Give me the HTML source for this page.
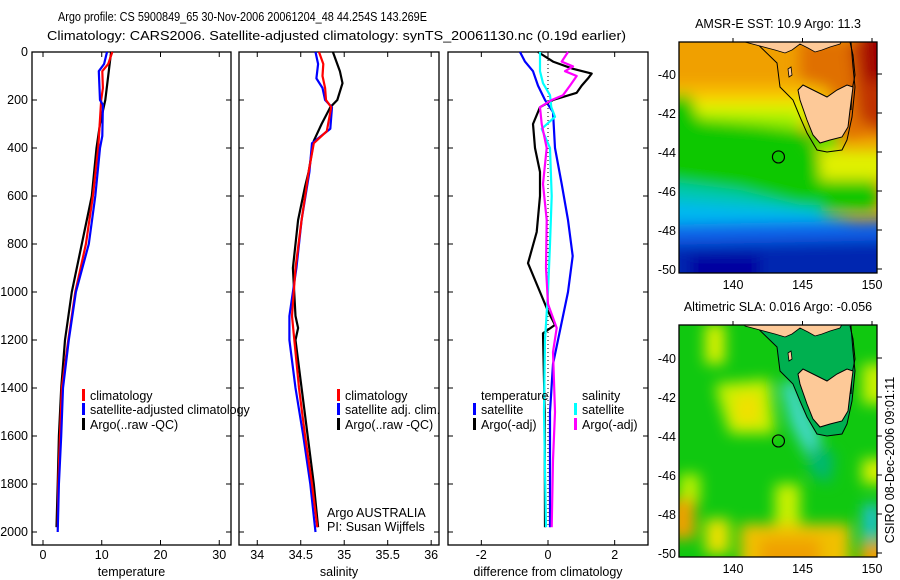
<!DOCTYPE html>
<html><head><meta charset="utf-8">
<style>
html,body{margin:0;padding:0;background:#fff;}
svg{display:block;font-family:"Liberation Sans",sans-serif;}
text{font-size:12.5px;fill:#000;}
</style></head>
<body>
<svg id="fig" width="900" height="580" viewBox="0 0 900 580" xmlns="http://www.w3.org/2000/svg">
<defs>
  <filter id="blur" x="-20%" y="-20%" width="140%" height="140%"><feGaussianBlur stdDeviation="7"/></filter>
  <clipPath id="clipTop"><rect x="679" y="42" width="198" height="231"/></clipPath>
  <clipPath id="clipBot"><rect x="679" y="325" width="198" height="232"/></clipPath>
</defs>
<text x="58" y="21" font-size="13.5" textLength="369" lengthAdjust="spacingAndGlyphs">Argo profile: CS 5900849_65 30-Nov-2006 20061204_48 44.254S 143.269E</text>
<text x="47" y="40" font-size="13.5" textLength="579" lengthAdjust="spacingAndGlyphs">Climatology: CARS2006. Satellite-adjusted climatology: synTS_20061130.nc (0.19d earlier)</text>
<g id="panels"></g>
<g id="maps"></g>
</svg>
<script>
// ---------- DATA ----------
const depthTicks = [0,200,400,600,800,1000,1200,1400,1600,1800,2000];
const tempTicks = [0,10,20,30];
const salTicks = [34,34.5,35,35.5,36];
const salTickLabels = ["34","34.5","35","35.5","36"];
const diffTicks = [-2,0,2];
const diffTickLabels = ["-2","0","2"];

const argoTDepth = [0,100,200,300,400,600,800,1000,1200,1400,1600,1800,1980];
const argoTemp   = [11.6,11.1,10.6,9.7,9.1,8.3,6.6,4.9,3.75,3.1,2.7,2.5,2.3];
const climTDepth = [0,50,80,150,200,400,600,800,1000,1200,1400,1600,1800,1980];
const climTemp   = [11.8,11.1,10.1,10.2,9.9,9.4,8.5,7.3,5.5,4.3,3.2,2.9,2.6,2.5];
const satTDepth  = [0,50,80,200,220,350,400,600,800,1000,1200,1400,1600,1800,2000];
const satTemp    = [10.9,10.4,9.5,9.7,10.2,10.1,9.7,8.9,7.8,5.6,4.4,3.4,3.1,2.7,2.5];

const argoSDepth = [0,80,130,200,230,300,370,500,560,700,900,1100,1150,1200,1400,1600,1800,1980];
const argoSal    = [34.87,34.95,34.98,34.92,34.84,34.74,34.65,34.59,34.55,34.47,34.41,34.44,34.47,34.44,34.51,34.58,34.65,34.70];
const climSDepth = [0,50,100,150,200,230,330,380,500,700,900,1100,1400,1600,1800,1980];
const climSal    = [34.71,34.76,34.75,34.78,34.79,34.85,34.80,34.65,34.59,34.51,34.44,34.40,34.48,34.55,34.63,34.69];
const satSDepth  = [0,50,110,150,200,230,320,380,500,700,900,1100,1200,1400,1600,1800,2000];
const satSal     = [34.67,34.70,34.68,34.75,34.78,34.86,34.84,34.63,34.60,34.51,34.45,34.37,34.37,34.44,34.53,34.61,34.67];

const dTsatDepth = [0,40,80,140,200,250,400,550,700,850,1000,1100,1300,1500,1980];
const dTsat      = [-0.84,-0.69,-0.45,-0.30,-0.09,0.15,0.21,0.41,0.60,0.74,0.60,0.45,0.15,0.06,0.06];
const dTargoDepth= [0,40,70,90,110,140,170,200,230,300,400,500,600,750,880,1000,1080,1137,1172,1500,1980];
const dTargo     = [-0.30,0.15,0.75,1.31,1.20,1.01,0.86,0.15,-0.24,-0.45,-0.39,-0.24,-0.24,-0.34,-0.60,-0.24,0,0.21,-0.15,-0.10,-0.09];
const dSsatDepth = [0,80,130,180,230,270,320,400,600,800,1000,1200,1500,1980];
const dSsat      = [-0.24,-0.24,-0.15,0.06,0.10,0.21,-0.19,0.06,0.11,0.06,0,-0.09,-0.12,-0.06];
const dSargoDepth= [0,40,60,80,100,140,180,200,230,300,400,550,700,900,1050,1150,1250,1500,1700,1980];
const dSargo     = [0.60,0.41,0.75,0.51,0.86,0.66,0.45,0.11,-0.24,-0.19,-0.04,-0.15,-0.04,-0.06,0,0.26,0.15,0.21,0.15,0.11];

const mapLonTicks = [140,145,150];
const mapLatTicks = [-40,-42,-44,-46,-48,-50];
const floatLon = 143.269, floatLat = -44.254;

// ---------- HELPERS ----------
const NS="http://www.w3.org/2000/svg";
function mk(tag, attrs, parent){const e=document.createElementNS(NS,tag);for(const k in attrs)e.setAttribute(k,attrs[k]);parent.appendChild(e);return e;}
const Y0=52, YS=0.24, PT=52, PB=545;
const yD = d => Y0 + d*YS;

const panelsG=document.getElementById('panels');
function makePanel(name,x0,x1,vmin,vmax,ticks,labels,xlabel,showY){
  const g=mk('g',{},panelsG);
  
  
  const sx=v=>x0+(v-vmin)/(vmax-vmin)*(x1-x0);
  const fr=mk('rect',{x:x0,y:PT,width:x1-x0,height:PB-PT,fill:'none',stroke:'#000','stroke-width':1.3},g);
  
  
  ticks.forEach((t,i)=>{
    const x=sx(t);
    mk('line',{x1:x,x2:x,y1:PT,y2:PT+5,stroke:'#000'},g);
    mk('line',{x1:x,x2:x,y1:PB,y2:PB-5,stroke:'#000'},g);
    const tx=mk('text',{x:x,y:PB+14,'text-anchor':'middle'},g);
    tx.textContent=labels[i];
    
    
  });
  depthTicks.forEach(d=>{
    const y=yD(d);
    mk('line',{x1:x0,x2:x0+5,y1:y,y2:y,stroke:'#000'},g);
    mk('line',{x1:x1,x2:x1-5,y1:y,y2:y,stroke:'#000'},g);
    if(showY){const t=mk('text',{x:x0-4,y:y+4,'text-anchor':'end'},g);t.textContent=String(d);
      
      }
  });
  const xl=mk('text',{x:(x0+x1)/2,y:PB+31,'text-anchor':'middle'},g);xl.textContent=xlabel;
  
  
  return {g,sx};
}
function drawLine(p,vals,deps,color,name){
  const pts=vals.map((v,i)=>p.sx(v).toFixed(1)+','+yD(deps[i]).toFixed(1)).join(' ');
  const l=mk('polyline',{points:pts,fill:'none',stroke:color,'stroke-width':2.2,'stroke-linejoin':'round'},p.g);
  
  
}
function legendEntry(g,x,y,color,label,name){
  if(color){mk('rect',{x:x,y:y-9,width:3,height:12,fill:color},g);}
  const t=mk('text',{x:x+8,y:y+2},g);t.textContent=label;
  
  
}

// Panel 1 temperature
const p1=makePanel('temperature-panel',32,231,-1.87,32.0,tempTicks,tempTicks.map(String),'temperature',true);
drawLine(p1,argoTemp,argoTDepth,'#000','argo-temperature-line');
drawLine(p1,climTemp,climTDepth,'#f00','climatology-temperature-line');
drawLine(p1,satTemp,satTDepth,'#00f','satellite-temperature-line');
legendEntry(p1.g,82,398,'#f00','climatology','legend-climatology');
legendEntry(p1.g,82,412,'#00f','satellite-adjusted climatology','legend-satellite');
legendEntry(p1.g,82,427,'#000','Argo(..raw -QC)','legend-argo');

// Panel 2 salinity
const p2=makePanel('salinity-panel',239,439,33.79,36.09,salTicks,salTickLabels,'salinity',false);
drawLine(p2,argoSal,argoSDepth,'#000','argo-salinity-line');
drawLine(p2,satSal,satSDepth,'#00f','satellite-salinity-line');
drawLine(p2,climSal,climSDepth,'#f00','climatology-salinity-line');
legendEntry(p2.g,337,398,'#f00','climatology','legend-climatology');
legendEntry(p2.g,337,412,'#00f','satellite adj. clim.','legend-satellite');
legendEntry(p2.g,337,427,'#000','Argo(..raw -QC)','legend-argo');
{const t=mk('text',{x:327,y:517},p2.g);t.textContent='Argo AUSTRALIA';


const t2=mk('text',{x:327,y:531},p2.g);t2.textContent='PI: Susan Wijffels';

}

// Panel 3 differences
const p3=makePanel('difference-panel',448,648,-3.0,3.0,diffTicks,diffTickLabels,'difference from climatology',false);
{const z=p3.sx(0);const dl=mk('line',{x1:z,x2:z,y1:yD(0),y2:yD(1980),stroke:'#000','stroke-dasharray':'1,3'},p3.g);

}
drawLine(p3,dTsat,dTsatDepth,'#00f','temperature-satellite-diff-line');
drawLine(p3,dTargo,dTargoDepth,'#000','temperature-argo-diff-line');
drawLine(p3,dSsat,dSsatDepth,'#0ff','salinity-satellite-diff-line');
drawLine(p3,dSargo,dSargoDepth,'#f0f','salinity-argo-diff-line');
legendEntry(p3.g,473,398,null,'temperature','legend-temperature-header');
legendEntry(p3.g,473,412,'#00f','satellite','legend-temp-satellite');
legendEntry(p3.g,473,427,'#000','Argo(-adj)','legend-temp-argo');
legendEntry(p3.g,574,398,null,'salinity','legend-salinity-header');
legendEntry(p3.g,574,412,'#0ff','satellite','legend-sal-satellite');
legendEntry(p3.g,574,427,'#f0f','Argo(-adj)','legend-sal-argo');

// ---------- MAPS ----------
const mapsG=document.getElementById('maps');
const MX0=679,MX1=877;
const lonX=lon=>733+(lon-140)*13.9;
function drawMap(name,top,bottom,lat40y,clip,title,blobs,shelfColor){
  const g=mk('g',{},mapsG);
  
  
  const latY=lat=>lat40y+(-40-lat)*19.5;
  const cg=mk('g',{'clip-path':'url(#'+clip+')'},g);
  mk('rect',{x:MX0,y:top,width:MX1-MX0,height:bottom-top,fill:blobs[0]},cg);
  const bg=mk('g',{filter:'url(#blur)'},cg);
  blobs.slice(1).forEach(b=>{mk('path',{d:b[1],fill:b[0],transform:'translate(0,'+(lat40y-74)+')'},bg);});
  const dy=lat40y-74;
  const geo=mk('g',{transform:'translate(0,'+dy+')'},cg);
  mk('path',{d:'M743,30 L777,63 L780,87 L793,100 L800,117 L807,133 L817,150 L827,152 L842,150 L847,140 L852,117 L855,87 L853,67 L850,30 Z',fill:shelfColor,stroke:'#000','stroke-width':1},geo);
  mk('path',{d:'M743,30 L745,42 L760,46 L775,50 L785,53 L792,50 L800,44 L808,48 L815,52 L822,50 L830,47 L840,44 L848,30 Z',fill:'#fdc998',stroke:'#000','stroke-width':0.8},geo);
  mk('path',{d:'M850,42 L853,55 L855,75 L852,90 L851,110',fill:'none',stroke:'#000','stroke-width':1},geo);
  mk('path',{d:'M788,69 L791,67 L792,75 L789,77 Z',fill:'#fdc998',stroke:'#000','stroke-width':0.8},geo);
  const tas=mk('path',{d:'M798,90 L803,85 L817,92 L827,97 L837,90 L847,85 L853,87 L850,110 L848,127 L842,137 L830,140 L820,143 L813,135 L807,120 L800,100 Z',fill:'#fdc998',stroke:'#000','stroke-width':1},geo);
  
  
  const fc=mk('circle',{cx:lonX(floatLon),cy:latY(floatLat),r:6,fill:'none',stroke:'#000','stroke-width':1.2},g);
  
  
  mk('rect',{x:MX0,y:top,width:MX1-MX0,height:bottom-top,fill:'none',stroke:'#000','stroke-width':1.3},g);
  mapLonTicks.forEach(l=>{const x=lonX(l);
    mk('line',{x1:x,x2:x,y1:top,y2:top-4,stroke:'#000'},g);
    const t=mk('text',{x:x,y:bottom+16,'text-anchor':'middle','font-size':'13px'},g);t.textContent=String(l);
    
    });
  mapLatTicks.forEach(l=>{const y=latY(l);
    mk('line',{x1:MX1,x2:MX1+5,y1:y,y2:y,stroke:'#000'},g);
    const t=mk('text',{x:MX0-3,y:y+5,'text-anchor':'end','font-size':'13px'},g);t.textContent=String(l);
    
    });
  const tt=mk('text',{x:(MX0+MX1)/2,y:top-14,'text-anchor':'middle'},g);tt.textContent=title;
  
  
}
const sstBlobs=['#f0a000',
 ['#f8c000','M660,85 L900,85 L900,112 L660,112 Z'],
 ['#e8f000','M660,100 L810,100 L810,125 L660,122 Z'],
 ['#a0f000','M700,112 L800,112 L800,132 L700,132 Z'],
 ['#10c800','M660,95 L690,95 L700,120 L760,125 L800,130 L820,160 L877,165 L877,210 L820,210 L800,215 L740,200 L660,190 Z'],
 ['#00c8b0','M660,180 L740,190 L800,205 L820,205 L830,230 L877,230 L877,240 L660,240 Z'],
 ['#00b8f0','M660,200 L800,210 L877,225 L877,240 L660,240 Z'],
 ['#1060e8','M660,225 L900,220 L900,255 L660,255 Z'],
 ['#0028b0','M660,245 L900,240 L900,290 L660,290 Z'],
 ['#0000a0','M690,255 L760,255 L760,290 L690,290 Z'],
 ['#e0f000','M820,150 L900,150 L900,180 L820,180 Z'],
 ['#e07000','M800,40 L900,40 L900,130 L840,140 L830,90 L800,80 Z'],
 ['#c03000','M850,40 L900,40 L900,140 L860,120 Z'],
 ['#a00000','M862,30 L900,30 L900,85 L865,80 Z'],
 ['#40e000','M805,125 L840,135 L835,150 L815,150 Z']
];
drawMap('sst-map',42,273,74,'clipTop','AMSR-E SST: 10.9 Argo: 11.3',sstBlobs,'none');
const slaBlobs=['#10c810',
 ['#d8f000','M705,40 L725,40 L725,80 L705,80 Z'],
 ['#c8f000','M715,100 L770,95 L775,150 L730,150 L720,120 Z'],
 ['#f0e000','M735,110 L760,110 L760,140 L735,140 Z'],
 ['#b8f000','M679,190 L700,190 L700,220 L679,220 Z'],
 ['#f0a000','M670,215 L695,215 L695,255 L670,255 Z'],
 ['#e8e000','M705,235 L730,235 L730,270 L705,270 Z'],
 ['#f0c000','M740,240 L850,240 L850,290 L740,290 Z'],
 ['#f0a000','M760,255 L820,255 L820,290 L760,290 Z'],
 ['#c8f000','M775,200 L800,200 L800,240 L775,240 Z'],
 ['#40d8c0','M780,100 L795,95 L820,150 L823,175 L810,178 L790,140 Z'],
 ['#00b870','M810,160 L835,170 L830,200 L810,190 Z'],
 ['#c8f000','M862,80 L890,80 L890,120 L862,120 Z'],
 ['#d8f000','M862,175 L890,175 L890,200 L862,200 Z'],
 ['#20c0d0','M863,220 L880,220 L880,255 L863,255 Z'],
 ['#f0a000','M860,258 L890,258 L890,290 L860,290 Z']
];
drawMap('sla-map',325,557,358,'clipBot','Altimetric SLA: 0.016 Argo: -0.056',slaBlobs,'#00b050');
{const t=mk('text',{x:0,y:0,transform:'translate(894,460) rotate(-90)','text-anchor':'middle','font-size':'13px'},mapsG);
t.textContent='CSIRO 08-Dec-2006 09:01:11';

}
</script>
</body></html>
